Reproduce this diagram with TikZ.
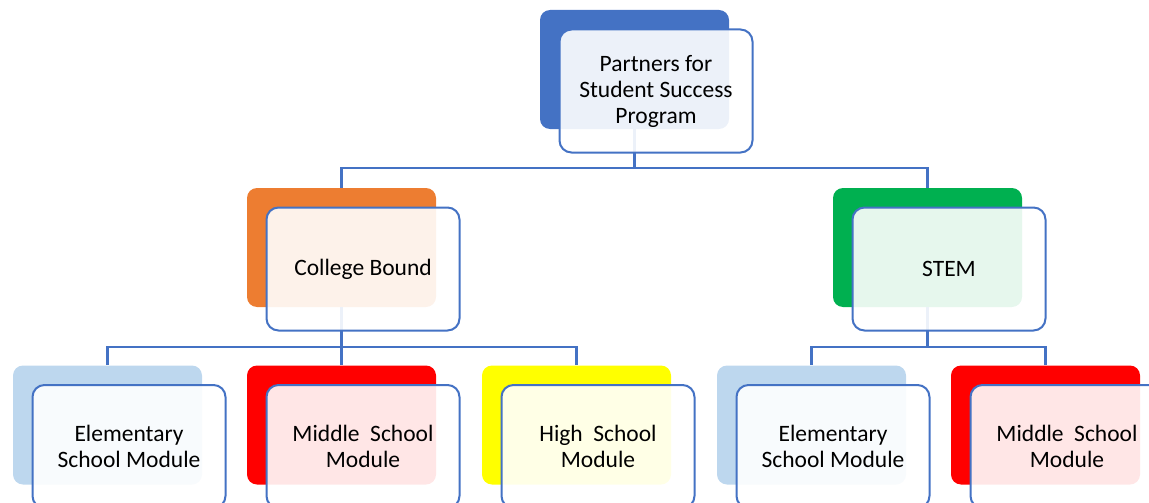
\documentclass[tikz,border=0pt]{standalone}
\usepackage{fontspec}
\setmainfont{Carlito}
\definecolor{accblue}{HTML}{4472C4}
\definecolor{accorange}{HTML}{ED7D31}
\definecolor{accgreen}{HTML}{00B050}
\definecolor{acclight}{HTML}{BDD7EE}
\definecolor{accred}{HTML}{FF0000}
\definecolor{accyellow}{HTML}{FFFF00}
\tikzset{
  backbox/.style={rectangle, rounded corners=10pt, minimum width=189pt, minimum height=119pt, inner sep=0pt, draw=none},
  frontbox/.style={rectangle, rounded corners=12pt, minimum width=193pt, minimum height=123pt, inner sep=0pt,
    draw=accblue, line width=2pt, fill=white, fill opacity=0.9, draw opacity=1, text opacity=1,
    align=center, font=\fontsize{23.5}{26}\selectfont},
  conn/.style={draw=accblue, line width=2.2pt},
}
\newcommand{\wsp}{\hspace{0.45em}}
\begin{document}
\begin{tikzpicture}[x=1pt,y=-1pt]
\useasboundingbox (0,0) rectangle (1149,503);
\clip (0,0) rectangle (1149,503);
% back boxes
\node[backbox, fill=accblue] (topb) at (634.5,69.5) {};
\node[backbox, fill=accorange] (cbb) at (341.5,247.5) {};
\node[backbox, fill=accgreen] (stb) at (927.5,247.5) {};
\node[backbox, fill=acclight] (e1b) at (107.5,425) {};
\node[backbox, fill=accred] (m1b) at (341.5,425) {};
\node[backbox, fill=accyellow] (h1b) at (576.5,425) {};
\node[backbox, fill=acclight] (e2b) at (811.5,425) {};
\node[backbox, fill=accred] (m2b) at (1045.5,425) {};
% connectors
\draw[conn] (topb.south) -- ([yshift=-39pt]topb.south) -| (cbb.north);
\draw[conn] (topb.south) -- ([yshift=-39pt]topb.south) -| (stb.north);
\draw[conn] (cbb.south) -- ([yshift=-40pt]cbb.south) -| (e1b.north);
\draw[conn] (cbb.south) -- (m1b.north);
\draw[conn] (cbb.south) -- ([yshift=-40pt]cbb.south) -| (h1b.north);
\draw[conn] (stb.south) -- ([yshift=-40pt]stb.south) -| (e2b.north);
\draw[conn] (stb.south) -- ([yshift=-40pt]stb.south) -| (m2b.north);
% front boxes
\node[frontbox] (topf) at ([shift={(21.5,21.5)}]topb.center) {Partners for\\Student Success\\Program};
\node[frontbox] (cbf) at ([shift={(21.5,21.5)}]cbb.center) {College Bound};
\node[frontbox] (stf) at ([shift={(21.5,21.5)}]stb.center) {STEM};
\node[frontbox] (e1f) at ([shift={(21.5,21.5)}]e1b.center) {Elementary\\School Module};
\node[frontbox] (m1f) at ([shift={(21.5,21.5)}]m1b.center) {Middle\wsp School\\Module};
\node[frontbox] (h1f) at ([shift={(21.5,21.5)}]h1b.center) {High\wsp School\\Module};
\node[frontbox] (e2f) at ([shift={(21.5,21.5)}]e2b.center) {Elementary\\School Module};
\node[frontbox] (m2f) at ([shift={(21.5,21.5)}]m2b.center) {Middle\wsp School\\Module};
\end{tikzpicture}
\end{document}
